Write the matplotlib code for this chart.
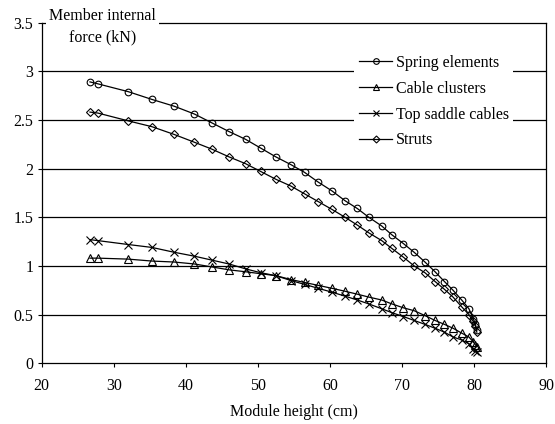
import matplotlib
matplotlib.use("Agg")
import matplotlib.pyplot as plt

plt.rcParams['font.family'] = ['Liberation Serif', 'DejaVu Serif']

module_height = [26.7, 27.8, 32.0, 35.3, 38.4, 41.2, 43.6, 46.0, 48.3, 50.4,
                 52.5, 54.6, 56.5, 58.4, 60.3, 62.1, 63.8, 65.4, 67.2, 68.6,
                 70.2, 71.7, 73.2, 74.6, 75.9, 77.1, 78.3, 79.3, 79.9, 80.2, 80.4]

spring_elements = [2.89, 2.87, 2.79, 2.71, 2.64, 2.56, 2.47, 2.38, 2.30, 2.21,
                   2.12, 2.04, 1.96, 1.86, 1.77, 1.67, 1.59, 1.50, 1.41, 1.32,
                   1.23, 1.14, 1.04, 0.94, 0.84, 0.75, 0.65, 0.56, 0.46, 0.40, 0.34]

cable_clusters = [1.08, 1.08, 1.07, 1.05, 1.04, 1.02, 0.99, 0.96, 0.94, 0.92,
                  0.90, 0.86, 0.83, 0.80, 0.77, 0.74, 0.71, 0.68, 0.65, 0.61,
                  0.57, 0.54, 0.49, 0.44, 0.40, 0.36, 0.31, 0.27, 0.22, 0.19, 0.17]

top_saddle_cables = [1.27, 1.26, 1.22, 1.19, 1.14, 1.10, 1.06, 1.02, 0.97, 0.93,
                     0.90, 0.85, 0.81, 0.77, 0.73, 0.69, 0.65, 0.61, 0.56, 0.52,
                     0.48, 0.44, 0.40, 0.36, 0.32, 0.27, 0.24, 0.20, 0.15, 0.13, 0.12]

struts = [2.58, 2.57, 2.49, 2.43, 2.35, 2.27, 2.20, 2.12, 2.05, 1.97,
          1.89, 1.82, 1.74, 1.66, 1.58, 1.50, 1.42, 1.34, 1.26, 1.18,
          1.09, 1.00, 0.93, 0.84, 0.76, 0.68, 0.58, 0.50, 0.43, 0.38, 0.32]

series_names = ["Spring elements", "Cable clusters", "Top saddle cables", "Struts"]
x_ticks = [20, 30, 40, 50, 60, 70, 80, 90]
y_ticks = [0, 0.5, 1, 1.5, 2, 2.5, 3, 3.5]

FS = 11.5
W, H = 555, 424
fig = plt.figure(figsize=(W / 100, H / 100), dpi=100)
left, right, top, bottom = 41.7, 546.0, 22.5, 363.3
ax = fig.add_axes([left / W, 1 - bottom / H, (right - left) / W, (bottom - top) / H])

ax.set_xlim(20, 90)
ax.set_ylim(0, 3.5)
ax.set_xticks(x_ticks)
ax.set_yticks(y_ticks)
ax.set_yticklabels([f"{v:g}" for v in y_ticks])
ax.tick_params(direction='out', length=3, width=0.8, labelsize=FS, pad=3, color='black')
ax.tick_params(axis='x', pad=7.5)
for s in ax.spines.values():
    s.set_linewidth(0.9)
    s.set_color('black')

for v in y_ticks[1:-1]:
    ax.axhline(v, color='black', lw=0.9, zorder=1)

common = dict(color='black', lw=0.9, markerfacecolor='none',
              markeredgecolor='black', markeredgewidth=0.8, zorder=3)
ax.plot(module_height, spring_elements, marker='o', markersize=4.8,
        label=series_names[0], **common)
ax.plot(module_height, cable_clusters, marker='^', markersize=5.2,
        label=series_names[1], **common)
ax.plot(module_height, top_saddle_cables, marker='x', markersize=5.2,
        label=series_names[2], **common)
ax.plot(module_height, struts, marker='D', markersize=4.2,
        label=series_names[3], **common)

leg = ax.legend(loc='upper left', bbox_to_anchor=(354 / W, 1 - 50 / H),
                bbox_transform=fig.transFigure, fontsize=FS, frameon=True,
                fancybox=False, edgecolor='none', facecolor='white', framealpha=1,
                handlelength=2.1, handletextpad=0.2, labelspacing=0.62,
                borderpad=0.3, borderaxespad=0, markerscale=0.85)
leg.set_zorder(5)

ax.text((48 + 157) / 2 / W, 1 - 27 / H, "Member internal\nforce (kN)",
        transform=fig.transFigure, ha='center', va='center', fontsize=FS,
        linespacing=1.45, zorder=6,
        bbox=dict(facecolor='white', edgecolor='none', pad=2))

ax.set_xlabel("Module height (cm)", fontsize=FS, labelpad=7)

fig.savefig("out.png", dpi=100)
